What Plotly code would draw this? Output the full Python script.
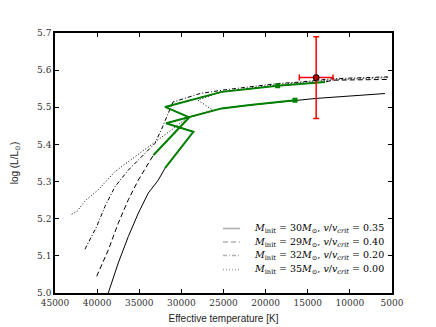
import plotly.graph_objects as go

# tracks: effective temperature [K] and log(L/Lsun)
t_30 = [39340, 38670, 37490, 36300, 35110, 33930, 32740, 31940, 28580, 31820, 28980, 25210, 21850, 16510, 13940, 5830]
l_30 = [4.955, 5.000, 5.081, 5.152, 5.215, 5.269, 5.304, 5.336, 5.434, 5.457, 5.474, 5.497, 5.506, 5.519, 5.524, 5.537]
green_30 = (7, 13)  # part of the track drawn in green

t_29 = [40050, 38670, 37490, 36300, 35110, 33930, 33330, 29060, 31940, 25210, 18570, 12950, 12000, 5480]
l_29 = [5.045, 5.116, 5.188, 5.251, 5.304, 5.349, 5.371, 5.473, 5.501, 5.5415, 5.558, 5.568, 5.573, 5.575]
green_29 = (6, 11)

t_32 = [41440, 40050, 39070, 37880, 36300, 34710, 33130, 32300, 31590, 31000, 27790, 25210, 18570, 15920, 12000, 5480]
l_32 = [5.118, 5.179, 5.233, 5.286, 5.331, 5.367, 5.403, 5.444, 5.484, 5.514, 5.537, 5.546, 5.564, 5.568, 5.577, 5.582]

t_35 = [43020, 42420, 41640, 41240, 39900, 37880, 35500, 32740, 31110, 29370, 26250, 28030, 25420, 18570, 15920, 12000, 5480]
l_35 = [5.212, 5.219, 5.242, 5.252, 5.277, 5.327, 5.367, 5.412, 5.440, 5.471, 5.492, 5.519, 5.541, 5.561, 5.566, 5.574, 5.580]

# end-of-green markers
mark_t = [16510, 18570]
mark_l = [5.519, 5.558]

# observed star
obs_t, obs_dt = 14000, 2000
obs_l, obs_dl = 5.58, 0.11

labels = [
    "<i>M</i><sub>init</sub> = 30<i>M</i><sub>⊙</sub>, <i>v</i>/<i>v</i><sub><i>crit</i></sub> = 0.35",
    "<i>M</i><sub>init</sub> = 29<i>M</i><sub>⊙</sub>, <i>v</i>/<i>v</i><sub><i>crit</i></sub> = 0.40",
    "<i>M</i><sub>init</sub> = 32<i>M</i><sub>⊙</sub>, <i>v</i>/<i>v</i><sub><i>crit</i></sub> = 0.20",
    "<i>M</i><sub>init</sub> = 35<i>M</i><sub>⊙</sub>, <i>v</i>/<i>v</i><sub><i>crit</i></sub> = 0.00",
]
# matplotlib-like dash patterns: '-', '--', '-.', ':'
dashes = ["solid", "5px,3px", "4px,2px,1px,2px", "1px,2px"]

x_ticks = [45000, 40000, 35000, 30000, 25000, 20000, 15000, 10000, 5000]
y_ticks = [5.0, 5.1, 5.2, 5.3, 5.4, 5.5, 5.6, 5.7]

fig = go.Figure()

for t, l, dash, name in zip([t_30, t_29, t_32, t_35], [l_30, l_29, l_32, l_35], dashes, labels):
    fig.add_trace(
        go.Scatter(
            x=t,
            y=l,
            mode="lines",
            name=name,
            showlegend=False,
            line={"color": "black", "width": 1, "dash": dash},
        )
    )

for t, l, (a, b) in [(t_30, l_30, green_30), (t_29, l_29, green_29)]:
    fig.add_trace(
        go.Scatter(
            x=t[a:b + 1],
            y=l[a:b + 1],
            mode="lines",
            showlegend=False,
            line={"color": "#008000", "width": 2},
        )
    )

fig.add_trace(
    go.Scatter(
        x=mark_t,
        y=mark_l,
        mode="markers",
        showlegend=False,
        marker={"color": "#008000", "size": 5, "symbol": "square"},
    )
)

fig.add_trace(
    go.Scatter(
        x=[obs_t],
        y=[obs_l],
        mode="markers",
        showlegend=False,
        marker={"color": "#b00000", "size": 6, "line": {"color": "black", "width": 1}},
        error_x={"type": "constant", "value": obs_dt, "color": "red", "thickness": 1.5, "width": 3},
        error_y={"type": "constant", "value": obs_dl, "color": "red", "thickness": 1.5, "width": 3},
    )
)

# legend drawn by hand so the rows sit as tight as in the original
legend_rows = [0.248, 0.196, 0.144, 0.090]
for row_y, dash, name in zip(legend_rows, dashes, labels):
    fig.add_shape(
        type="line",
        xref="paper",
        yref="paper",
        x0=0.4985,
        x1=0.549,
        y0=row_y,
        y1=row_y,
        line={"color": "black", "width": 1.6, "dash": dash},
    )
    fig.add_annotation(
        xref="paper",
        yref="paper",
        x=0.585,
        y=row_y,
        xanchor="left",
        yanchor="middle",
        text=name,
        showarrow=False,
        font={"family": "DejaVu Serif", "size": 9.5, "color": "black"},
    )

axis_common = dict(
    showline=True,
    linecolor="black",
    linewidth=1.5,
    mirror="ticks",
    ticks="inside",
    ticklen=4,
    tickcolor="black",
    showgrid=False,
    zeroline=False,
    automargin=False,
    tickfont={"family": "DejaVu Serif", "size": 9, "color": "#333"},
)

fig.update_xaxes(
    range=[45000, 5000],
    tickvals=x_ticks,
    ticktext=[str(v) for v in x_ticks],
    title={"text": "Effective temperature [K]", "font": {"family": "Liberation Sans", "size": 10}, "standoff": 8},
    **axis_common,
)
fig.update_yaxes(
    range=[5.0, 5.7],
    tickvals=y_ticks,
    ticktext=[f"{v:.1f}" for v in y_ticks],
    title={"text": "log (L/L<sub>⊙</sub>)", "font": {"family": "Liberation Sans", "size": 10}, "standoff": 17},
    **axis_common,
)

# the page body adds an 8px margin, so the figure is 8px smaller on each side
fig.update_layout(
    width=428,
    height=319,
    template="simple_white",
    plot_bgcolor="white",
    paper_bgcolor="white",
    margin={"l": 47, "r": 44, "t": 25, "b": 34},
    showlegend=False,
)

fig.write_html("out.html")
